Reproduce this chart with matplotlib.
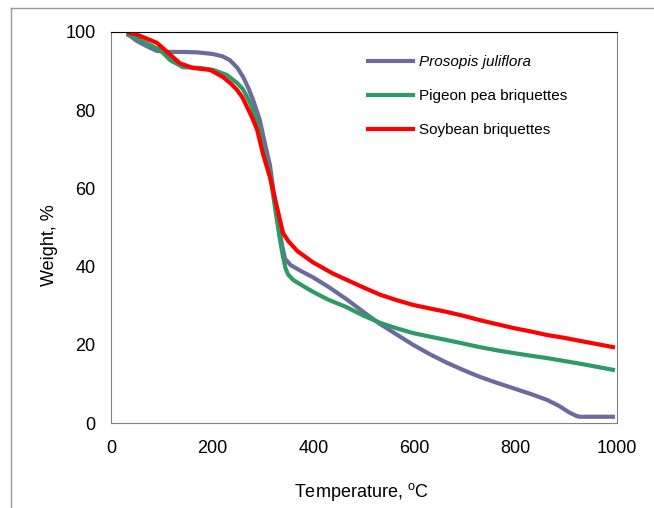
import numpy as np
import matplotlib
matplotlib.use('Agg')
from matplotlib import pyplot as plt
from matplotlib.lines import Line2D

plt.rcParams['font.family'] = ['Liberation Sans', 'DejaVu Sans']
plt.rcParams['mathtext.fontset'] = 'custom'
plt.rcParams['mathtext.rm'] = 'Liberation Sans'

# TGA curves
prosopis_t = [35, 50, 70, 90, 110, 140, 170, 200, 220, 235, 250, 262, 272, 282, 294, 304, 314, 320, 330,
              338, 344, 355, 375, 400, 430, 466, 500, 532, 565, 597, 630, 664, 697, 729, 762, 795, 830,
              862, 885, 907, 920, 927, 960, 992]
prosopis_w = [99.3, 97.8, 96.4, 95.2, 94.9, 94.9, 94.8, 94.4, 93.8, 92.8, 90.8, 88.3, 85.5, 82.2, 77.5,
              71.6, 66.0, 60.4, 51.9, 45.5, 42.0, 40.4, 38.9, 37.2, 34.8, 31.6, 28.3, 25.3, 22.6, 20.0,
              17.6, 15.4, 13.5, 11.8, 10.3, 8.9, 7.4, 5.9, 4.4, 2.6, 1.8, 1.6, 1.6, 1.6]

pigeon_t = [35, 57, 80, 97, 117, 142, 176, 202, 229, 249, 260, 269, 278, 285, 293, 300, 314, 324, 334,
            340, 345, 350, 360, 380, 400, 430, 466, 500, 532, 565, 597, 630, 664, 697, 729, 762, 795,
            830, 862, 930, 992]
pigeon_w = [99.2, 98.0, 96.5, 95.4, 92.8, 91.0, 90.8, 90.3, 89.0, 87.0, 85.5, 83.4, 81.0, 78.3, 74.8,
            70.6, 63.9, 55.2, 46.8, 42.5, 39.5, 38.0, 36.6, 35.0, 33.5, 31.5, 29.6, 27.4, 25.6, 24.2,
            23.0, 22.1, 21.2, 20.3, 19.4, 18.6, 17.9, 17.2, 16.6, 15.1, 13.6]

soy_t = [35, 50, 63, 80, 91, 111, 136, 162, 196, 221, 237, 249, 260, 269, 280, 289, 300, 314, 328, 340,
         350, 368, 399, 439, 466, 500, 532, 565, 597, 630, 664, 697, 729, 762, 795, 830, 862, 895, 927,
         960, 992]
soy_w = [99.8, 99.4, 98.7, 97.8, 97.2, 94.9, 92.0, 90.8, 90.3, 88.5, 86.8, 85.2, 83.2, 80.8, 77.8, 74.9,
         69.0, 62.9, 55.2, 48.6, 46.6, 44.0, 41.1, 38.2, 36.6, 34.6, 32.8, 31.4, 30.2, 29.3, 28.4, 27.4,
         26.3, 25.3, 24.3, 23.4, 22.5, 21.8, 21.0, 20.2, 19.4]

labels = ['Prosopis juliflora', 'Pigeon pea briquettes', 'Soybean briquettes']
colors = ['#6B6BA0', '#2E9A68', '#FF0000']
x_ticks = [0, 200, 400, 600, 800, 1000]
y_ticks = [0, 20, 40, 60, 80, 100]

fig = plt.figure(figsize=(6.54, 5.08), dpi=100)
ax = fig.add_axes([111/654, 85/508, 506/654, 391/508])

ax.plot(prosopis_t, prosopis_w, color=colors[0], lw=3, label=labels[0])
ax.plot(pigeon_t, pigeon_w, color=colors[1], lw=3, label=labels[1])
ax.plot(soy_t, soy_w, color=colors[2], lw=3, label=labels[2])

ax.set_xlim(0, 1000)
ax.set_ylim(0, 100)
ax.set_xticks(x_ticks)
ax.set_yticks(y_ticks)
ax.tick_params(length=0, labelsize=13)
ax.tick_params(axis='x', pad=12)
ax.tick_params(axis='y', pad=11)
for s in ['left', 'bottom', 'right']:
    ax.spines[s].set_color('#808080')
ax.spines['top'].set_color('black')

ax.set_xlabel('Temperature, $^{\\rm o}$C', fontsize=13)
ax.set_ylabel('Weight, %', fontsize=13)
ax.xaxis.set_label_coords(0.496, -0.148)
ax.yaxis.set_label_coords(-0.105, 0.455)

leg = ax.legend(loc='upper left', bbox_to_anchor=(0.507, 0.94), frameon=False, fontsize=11,
                handlelength=3.0, handletextpad=0.4, labelspacing=1.3, borderpad=0, borderaxespad=0)
leg.get_texts()[0].set_style('italic')

# outer chart-area border (left and top edges visible)
fig.add_artist(Line2D([11/654, 11/654], [0, 1 - 8/508], color='#999999', lw=1))
fig.add_artist(Line2D([11/654, 1], [1 - 8/508, 1 - 8/508], color='#999999', lw=1))

fig.savefig('out.png', dpi=100)
